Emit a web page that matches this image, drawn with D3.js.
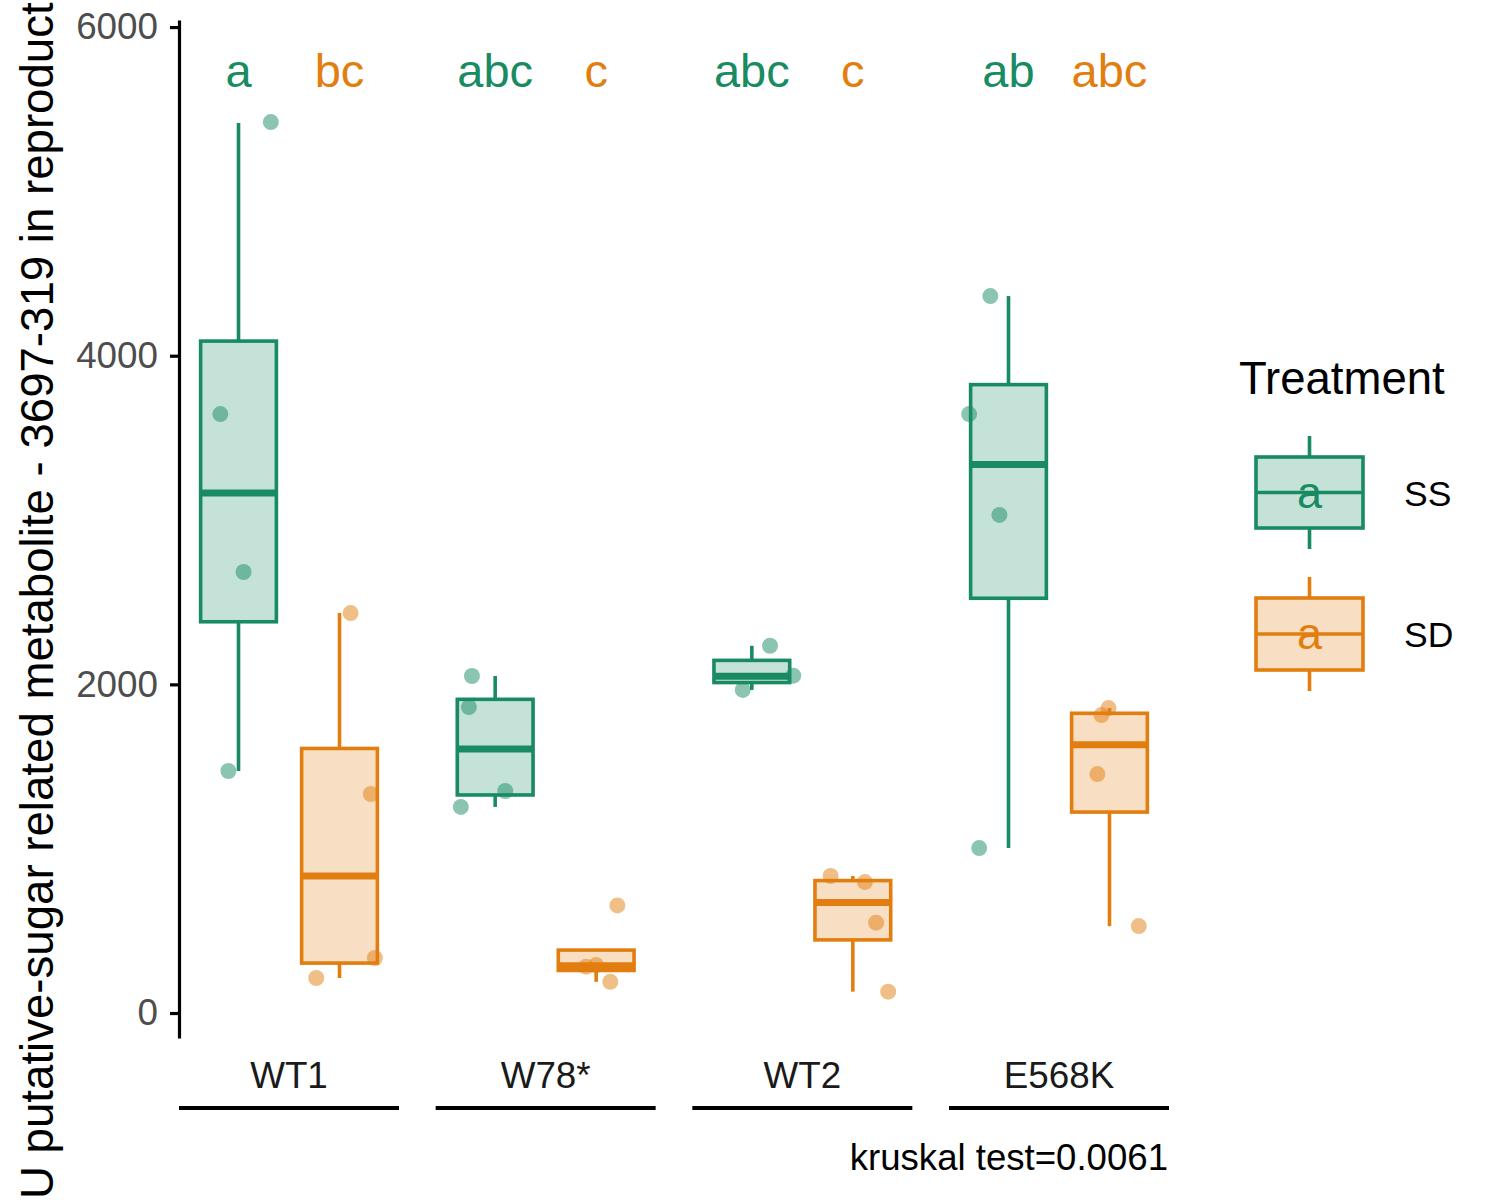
<!DOCTYPE html>
<html>
<head>
<meta charset="utf-8">
<script src="https://cdn.jsdelivr.net/npm/d3@7"></script>
<style>
  html, body { margin: 0; padding: 0; background: #fff; }
  svg { display: block; font-family: "Liberation Sans", Arial, sans-serif; }
</style>
</head>
<body>
<svg id="chart" width="1500" height="1200"></svg>
<script>
// ---------------- data ----------------
const groups = ["WT1", "W78*", "WT2", "E568K"];
const treatments = ["SS", "SD"];

// box statistics (per group)
const ssLow  = [1473, 1254, 1966, 1004];
const ssQ1   = [2381, 1327, 2011, 2524];
const ssMed  = [3164, 1606, 2049, 3338];
const ssQ3   = [4089, 1909, 2146, 3824];
const ssHigh = [5416, 2051, 2235, 4363];

const sdLow  = [213, 190, 130, 529];
const sdQ1   = [304, 259, 445, 1223];
const sdMed  = [834, 287, 673, 1633];
const sdQ3   = [1610, 383, 806, 1824];
const sdHigh = [2434, 383, 834, 1856];

// jittered observations (value) and horizontal jitter (fraction of dodge band)
const ssPoints = [[5422, 3645, 2684, 1473], [2051, 1862, 1351, 1254], [2235, 2053, 1966], [4363, 3645, 3031, 1004]];
const ssJitter = [[0.32, -0.18, 0.05, -0.10], [-0.23, -0.26, 0.10, -0.34], [0.18, 0.41, -0.09], [-0.18, -0.39, -0.09, -0.29]];
const sdPoints = [[2434, 1333, 335, 213], [655, 282, 292, 190], [834, 797, 550, 130], [1856, 1813, 1454, 529]];
const sdJitter = [[0.11, 0.31, 0.35, -0.23], [0.21, -0.10, 0.00, 0.14], [-0.22, 0.12, 0.23, 0.35], [-0.01, -0.08, -0.12, 0.29]];

// compact letter display
const ssLetters = ["a", "abc", "abc", "ab"];
const sdLetters = ["bc", "c", "c", "abc"];
const letterY = 5635;

const yTicks = [0, 2000, 4000, 6000];
const yLimits = [-152, 6043];

// visible part of the y-axis title (the reference shows it cropped at both ends)
const yTitle = "U putative-sugar related metabolite - 3697-319 in reproduct";
const legendTitle = "Treatment";
const testLabel = "kruskal test=0.0061";

const colors = { SS: "#188B63", SD: "#E27E0F" };

// ---------------- build table ----------------
const boxes = [];
const points = [];
const letters = [];
groups.forEach((g, i) => {
  boxes.push({ g, t: "SS", low: ssLow[i], q1: ssQ1[i], med: ssMed[i], q3: ssQ3[i], high: ssHigh[i] });
  boxes.push({ g, t: "SD", low: sdLow[i], q1: sdQ1[i], med: sdMed[i], q3: sdQ3[i], high: sdHigh[i] });
  ssPoints[i].forEach((v, j) => points.push({ g, t: "SS", v, j: ssJitter[i][j] }));
  sdPoints[i].forEach((v, j) => points.push({ g, t: "SD", v, j: sdJitter[i][j] }));
  letters.push({ g, t: "SS", s: ssLetters[i] });
  letters.push({ g, t: "SD", s: sdLetters[i] });
});

// ---------------- scales ----------------
const svg = d3.select("#chart");
const x = d3.scalePoint().domain(groups).range([179, 1169]).padding(0.4286);
const step = x.step();
const inner = d3.scaleBand().domain(treatments).range([-step * 0.3935, step * 0.3935]);
const bw = inner.bandwidth();
const boxW = bw * 0.75;
const y = d3.scaleLinear().domain(yLimits).range([1038, 20]);

const cx = d => x(d.g) + inner(d.t) + bw / 2;

// ---------------- boxes ----------------
const gBox = svg.append("g");
const bx = gBox.selectAll("g.box").data(boxes).join("g").attr("class", "box");
bx.append("line")
  .attr("x1", cx).attr("x2", cx)
  .attr("y1", d => y(d.q3)).attr("y2", d => y(d.high))
  .attr("stroke", d => colors[d.t]).attr("stroke-width", 3.6);
bx.append("line")
  .attr("x1", cx).attr("x2", cx)
  .attr("y1", d => y(d.q1)).attr("y2", d => y(d.low))
  .attr("stroke", d => colors[d.t]).attr("stroke-width", 3.6);
bx.append("rect")
  .attr("x", d => cx(d) - boxW / 2).attr("width", boxW)
  .attr("y", d => y(d.q3)).attr("height", d => y(d.q1) - y(d.q3))
  .attr("fill", d => colors[d.t]).attr("fill-opacity", 0.25)
  .attr("stroke", d => colors[d.t]).attr("stroke-width", 3.6);
bx.append("line")
  .attr("x1", d => cx(d) - boxW / 2).attr("x2", d => cx(d) + boxW / 2)
  .attr("y1", d => y(d.med)).attr("y2", d => y(d.med))
  .attr("stroke", d => colors[d.t]).attr("stroke-width", 7);

// ---------------- points ----------------
svg.append("g").selectAll("circle").data(points).join("circle")
  .attr("cx", d => cx(d) + d.j * bw)
  .attr("cy", d => y(d.v))
  .attr("r", 8)
  .attr("fill", d => colors[d.t])
  .attr("fill-opacity", 0.5);

// ---------------- letters ----------------
svg.append("g").selectAll("text").data(letters).join("text")
  .attr("x", cx).attr("y", y(letterY))
  .attr("text-anchor", "middle")
  .attr("font-size", 47)
  .attr("fill", d => colors[d.t])
  .text(d => d.s);

// ---------------- y axis ----------------
const yAxis = svg.append("g")
  .attr("transform", "translate(179,0)")
  .call(d3.axisLeft(y).tickValues(yTicks).tickSize(9).tickSizeOuter(0).tickPadding(12).tickFormat(d3.format("d")));
yAxis.select(".domain").attr("stroke", "#000").attr("stroke-width", 3.2);
yAxis.selectAll(".tick line").attr("stroke", "#000").attr("stroke-width", 3.2);
yAxis.selectAll(".tick text")
  .attr("font-size", 36.8).attr("fill", "#4D4D4D")
  .attr("font-family", "Liberation Sans, Arial, sans-serif");

// y title, sized to span the full height
const yt = svg.append("text")
  .attr("font-size", 46)
  .attr("fill", "#000")
  .attr("text-anchor", "start")
  .text(yTitle);
const tl = yt.node().getComputedTextLength();
const fs = 46 * 1197 / tl;
yt.attr("font-size", fs).attr("transform", `translate(53,1199) rotate(-90)`);

// ---------------- x axis ----------------
const gx = svg.append("g");
gx.selectAll("text").data(groups).join("text")
  .attr("x", d => x(d)).attr("y", 1088)
  .attr("text-anchor", "middle")
  .attr("font-size", 36.8)
  .attr("fill", "#1A1A1A")
  .text(d => d);
gx.selectAll("line").data(groups).join("line")
  .attr("x1", d => x(d) - step * 0.4286).attr("x2", d => x(d) + step * 0.4286)
  .attr("y1", 1108).attr("y2", 1108)
  .attr("stroke", "#000").attr("stroke-width", 3.8);

svg.append("text")
  .attr("x", 1168).attr("y", 1170)
  .attr("text-anchor", "end")
  .attr("font-size", 36.6)
  .attr("fill", "#000")
  .text(testLabel);

// ---------------- legend ----------------
const lg = svg.append("g");
lg.append("text").attr("x", 1239).attr("y", 394).attr("font-size", 45.5).attr("fill", "#000").text(legendTitle);
const keyTop = [457, 598];
const keyBot = [528, 670];
treatments.forEach((t, i) => {
  const c = colors[t];
  const kx0 = 1256, kx1 = 1363, kc = (kx0 + kx1) / 2;
  const top = keyTop[i], bot = keyBot[i], mid = (top + bot) / 2;
  lg.append("line").attr("x1", kc).attr("x2", kc).attr("y1", top - 21).attr("y2", top).attr("stroke", c).attr("stroke-width", 3.6);
  lg.append("line").attr("x1", kc).attr("x2", kc).attr("y1", bot).attr("y2", bot + 21).attr("stroke", c).attr("stroke-width", 3.6);
  lg.append("rect").attr("x", kx0).attr("y", top).attr("width", kx1 - kx0).attr("height", bot - top)
    .attr("fill", c).attr("fill-opacity", 0.25).attr("stroke", c).attr("stroke-width", 3.6);
  lg.append("line").attr("x1", kx0).attr("x2", kx1).attr("y1", mid).attr("y2", mid).attr("stroke", c).attr("stroke-width", 3.6);
  lg.append("text").attr("x", kc).attr("y", mid + 15).attr("text-anchor", "middle")
    .attr("font-size", 45).attr("fill", c).text("a");
  lg.append("text").attr("x", 1404).attr("y", mid + 13).attr("font-size", 35.5).attr("fill", "#000").text(t);
});
</script>
</body>
</html>
